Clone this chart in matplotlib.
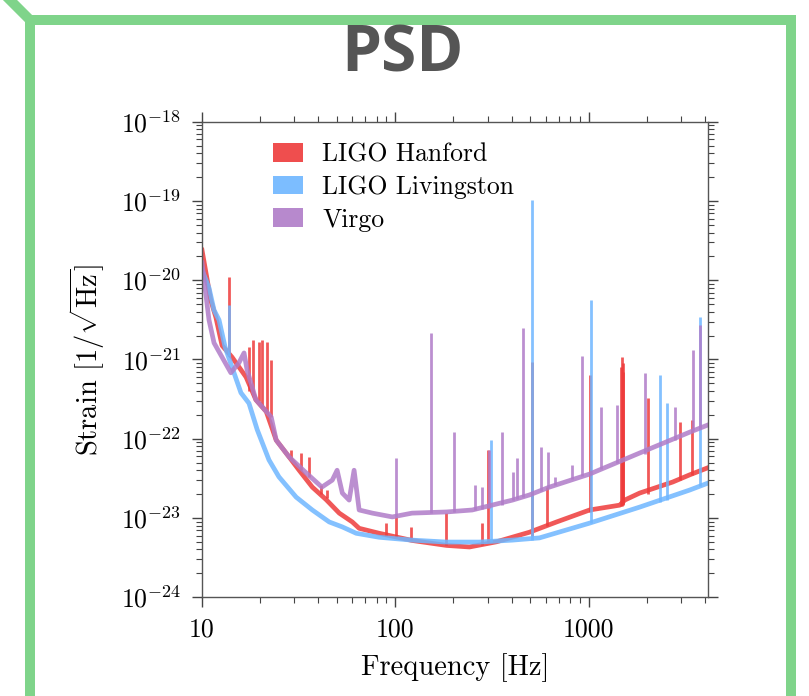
import matplotlib
matplotlib.use("Agg")
import matplotlib.pyplot as plt
from matplotlib.lines import Line2D
from matplotlib.patches import Patch

# ---- data (frequency in Hz, strain in 1/sqrt(Hz)) ----
h1_f = [10.0, 11.1, 11.8, 12.7, 14.3, 16.9, 19.0, 21.5, 24.2, 28.2, 31.8, 37.2, 43.9,
        51.3, 59.9, 65.0, 82.6, 122, 184, 242, 334, 494, 683, 1012, 1449, 1537, 1837,
        2723, 3334, 4140]
h1_asd = [2.4e-20, 5.6e-21, 3.4e-21, 1.5e-21, 1.07e-21, 6.0e-22, 3.1e-22, 2.2e-22, 9.6e-23,
          5.9e-23, 4.0e-23, 2.45e-23, 1.7e-23, 1.15e-23, 8.9e-24, 7.4e-24, 6.4e-24, 5.2e-24,
          4.5e-24, 4.3e-24, 5.0e-24, 6.6e-24, 8.9e-24, 1.26e-23, 1.45e-23, 1.68e-23, 2.06e-23,
          2.84e-23, 3.5e-23, 4.3e-23]
h1_spike_f = [13.8, 17.5, 18.4, 19.7, 20.5, 21.7, 22.8, 28.9, 32.6, 35.8, 41.4, 44.4, 89.8,
              101, 121, 184, 282, 300, 512, 608, 1012, 1470, 1485, 1500, 1515, 2024, 2960, 3420]
h1_spike_lo = [1.1e-21, 4e-22, 3.5e-22, 3e-22, 2.5e-22, 2.2e-22, 1.9e-22, 5.5e-23, 4.0e-23,
               3.3e-23, 2.0e-23, 1.8e-23, 6e-24, 5.8e-24, 5.2e-24, 4.5e-24, 4.6e-24, 4.8e-24,
               6.0e-24, 8e-24, 1.2e-23, 1.4e-23, 1.4e-23, 1.45e-23, 1.5e-23, 2.0e-23, 3.0e-23,
               3.5e-23]
h1_spike_hi = [1.1e-20, 1.44e-21, 1.76e-21, 1.66e-21, 1.76e-21, 1.66e-21, 9.9e-22, 7.2e-23,
               6.6e-23, 5.9e-23, 2.6e-23, 2.25e-23, 8.6e-24, 1.03e-23, 7.7e-24, 1.15e-23,
               8.6e-24, 7.2e-23, 9.3e-22, 2.45e-23, 6.4e-22, 8e-22, 1.07e-21, 9e-22, 7e-22,
               3.3e-22, 1.63e-22, 1.7e-22]

l1_f = [10.0, 10.87, 11.54, 12.25, 13.16, 14.3, 15.9, 17.5, 19.3, 22.2, 25.0, 30.7, 37.2,
        45.5, 53.2, 62.8, 82.6, 122, 184, 272, 404, 557, 1012, 1837, 3334, 4140]
l1_asd = [1.35e-20, 8.0e-21, 4.2e-21, 3.15e-21, 1.44e-21, 8.0e-22, 3.8e-22, 2.8e-22, 1.3e-22,
          5.4e-23, 3.3e-23, 1.83e-23, 1.26e-23, 8.9e-24, 7.7e-24, 6.4e-24, 5.7e-24, 5.25e-24,
          4.96e-24, 4.96e-24, 5.25e-24, 5.6e-24, 8.6e-24, 1.37e-23, 2.25e-23, 2.75e-23]
l1_spike_f = [13.8, 314, 512, 1024, 2334, 2536, 3758]
l1_spike_lo = [1.1e-21, 5.0e-24, 5.3e-24, 8.6e-24, 1.6e-23, 1.7e-23, 2.5e-23]
l1_spike_hi = [4.9e-21, 9.6e-23, 1.03e-19, 5.6e-21, 6.4e-22, 2.8e-22, 3.4e-21]

v1_f = [10.0, 10.87, 11.54, 14.1, 15.5, 16.5, 17.1, 19.0, 22.8, 24.2, 28.2, 34.6, 41.7, 47.2,
        50.0, 53.2, 57.7, 61.2, 65.0, 76.1, 96.5, 122, 184, 250, 404, 494, 627, 1012, 1837,
        3334, 4140]
v1_asd = [1.66e-20, 3.15e-21, 1.62e-21, 6.8e-22, 9.0e-22, 1.21e-21, 7.4e-22, 3.1e-22, 1.88e-22,
          9.6e-23, 5.9e-23, 3.7e-23, 2.45e-23, 3.0e-23, 4.0e-23, 2.06e-23, 1.68e-23, 4.0e-23,
          1.26e-23, 1.15e-23, 1.03e-23, 1.15e-23, 1.19e-23, 1.26e-23, 1.68e-23, 1.95e-23,
          2.45e-23, 3.58e-23, 6.6e-23, 1.21e-22, 1.49e-22]
v1_spike_f = [101, 153.7, 202, 257, 282, 307, 358, 404, 428, 460, 564, 614, 667, 817, 920,
              1153, 1396, 1950, 2793, 3459, 3758]
v1_spike_lo = [1.03e-23, 1.15e-23, 1.2e-23, 1.26e-23, 1.3e-23, 1.35e-23, 1.45e-23, 1.68e-23,
               1.75e-23, 1.85e-23, 2.2e-23, 2.4e-23, 2.6e-23, 3.1e-23, 3.4e-23, 4.2e-23,
               5.0e-23, 6.5e-23, 9.5e-23, 1.25e-22, 1.35e-22]
v1_spike_hi = [5.7e-23, 2.16e-21, 1.21e-22, 2.6e-23, 2.45e-23, 7.2e-23, 1.21e-22, 3.8e-23,
               5.7e-23, 2.5e-21, 7.85e-23, 6.8e-23, 3.3e-23, 4.65e-23, 1.1e-21, 2.5e-22,
               2.66e-22, 6.76e-22, 2.5e-22, 1.32e-21, 2.73e-21]

detectors = ["LIGO Hanford", "LIGO Livingston", "Virgo"]
colors = ["#ee3b3b", "#6eb6ff", "#b07cc8"]

# ---- style ----
plt.rcParams["font.family"] = ["cmr10", "DejaVu Serif"]
plt.rcParams["mathtext.fontset"] = "cm"
plt.rcParams["axes.unicode_minus"] = False

fig = plt.figure(figsize=(8.09, 6.96), dpi=100)
ax = fig.add_axes([0.2497, 0.142, 0.6253, 0.683])

series = [
    (h1_f, h1_asd, h1_spike_f, h1_spike_lo, h1_spike_hi),
    (l1_f, l1_asd, l1_spike_f, l1_spike_lo, l1_spike_hi),
    (v1_f, v1_asd, v1_spike_f, v1_spike_lo, v1_spike_hi),
]
for (f, asd, sf, slo, shi), c in zip(series, colors):
    ax.plot(f, asd, color=c, lw=3.4, alpha=0.85, solid_joinstyle="round")
    ax.vlines(sf, slo, shi, color=c, lw=2.0, alpha=0.85)

ax.set_xscale("log")
ax.set_yscale("log")
ax.set_xlim(10, 4140)
ax.set_ylim(1e-24, 1e-18)

ax.set_xticks([10, 100, 1000])
ax.set_xticklabels(["10", "100", "1000"])
yt = [1e-24, 1e-23, 1e-22, 1e-21, 1e-20, 1e-19, 1e-18]
ax.set_yticks(yt)
ax.set_yticklabels([r"$10^{%d}$" % e for e in range(-24, -17)])
ax.yaxis.set_minor_locator(matplotlib.ticker.LogLocator(base=10, subs=range(2, 10), numticks=20))
ax.xaxis.set_minor_locator(matplotlib.ticker.LogLocator(base=10, subs=range(2, 10), numticks=20))

ax.tick_params(which="both", top=True, right=True, direction="out", color="#444444",
               labelsize=18.5, pad=8)
ax.tick_params(which="major", length=7, width=1.0)
ax.tick_params(which="minor", length=4, width=0.8)
for s in ax.spines.values():
    s.set_color("#555555")
    s.set_linewidth(1.0)

ax.set_xlabel("Frequency [Hz]", fontsize=20.5, labelpad=8)
ax.set_ylabel(r"Strain $[1/\sqrt{\mathrm{Hz}}]$", fontsize=20.5, labelpad=10)

handles = [Patch(facecolor=c, edgecolor="none", alpha=0.9) for c in colors]
ax.legend(handles, detectors, loc="upper left", bbox_to_anchor=(0.095, 1.005), frameon=False,
          fontsize=18.5, handlelength=1.15, handleheight=0.75, handletextpad=0.75,
          labelspacing=0.35)

# ---- green frame and title ----
green = "#7fd48a"
fw = 7.2
def px(x, y):
    return (x / 809.0, 1 - y / 696.0)
pts = [px(6, -4), px(30, 20), px(791, 20), px(791, 700)]
fig.add_artist(Line2D([p[0] for p in pts], [p[1] for p in pts], transform=fig.transFigure,
                      color=green, lw=fw, solid_joinstyle="miter"))
p1, p2 = px(30, 20), px(30, 700)
fig.add_artist(Line2D([p1[0], p2[0]], [p1[1], p2[1]], transform=fig.transFigure,
                      color=green, lw=fw, solid_capstyle="butt"))

fig.text(0.498, 0.921, "PSD", ha="center", va="center", fontsize=46, fontweight="bold",
         color="#555555", family=["Open Sans", "DejaVu Sans"])

fig.savefig("out.png", dpi=100)
